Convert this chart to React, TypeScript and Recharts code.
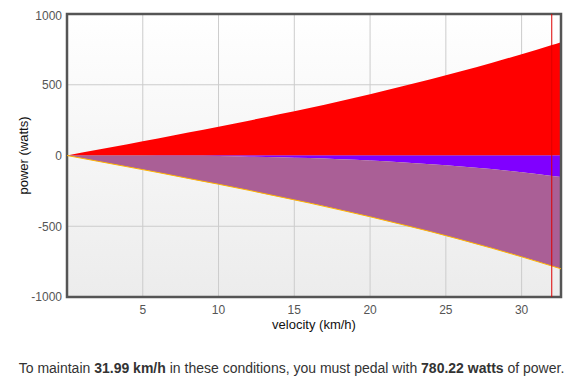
import React from "react";
import {
  AreaChart,
  Area,
  Line,
  XAxis,
  YAxis,
  CartesianGrid,
  ReferenceLine,
  ReferenceArea,
  Label,
} from "recharts";

// velocity (km/h) and power components (watts)
const velocity = [0, 2, 4, 6, 8, 10, 12, 14, 16, 18, 20, 22, 24, 26, 28, 30, 32, 32.6];
const totalPower = [0, 40, 80, 120, 162, 203, 246, 291, 336, 384, 433, 485, 538, 595, 654, 716, 781, 801];
const aeroPower = [0, 0, 0, 1, 2, 4, 8, 12, 18, 26, 35, 47, 61, 77, 96, 119, 144, 152];

const xTicks = [5, 10, 15, 20, 25, 30];
const yTicks = [-1000, -500, 0, 500, 1000];
const targetSpeed = 31.99;
const targetPower = 780.22;

const data = velocity.map((v, i) => ({
  v,
  total: totalPower[i],
  aero: aeroPower[i],
  neg: -totalPower[i],
}));

const FONT = "Arial, 'Liberation Sans', sans-serif";

export default function App() {
  return (
    <div style={{ width: 565, fontFamily: FONT }}>
      <AreaChart
        width={557}
        height={330}
        data={data}
        margin={{ top: 6, right: 4, bottom: 11, left: 14 }}
      >
        <defs>
          <linearGradient id="plotBg" x1="0" y1="0" x2="0" y2="1">
            <stop offset="0%" stopColor="#ffffff" />
            <stop offset="100%" stopColor="#ececec" />
          </linearGradient>
        </defs>
        <CartesianGrid fill="url(#plotBg)" stroke="#cccccc" strokeWidth={1} />
        <XAxis
          dataKey="v"
          type="number"
          domain={[0, 32.6]}
          ticks={xTicks}
          allowDataOverflow
          axisLine={false}
          tickLine={false}
          tickSize={0}
          tickMargin={8}
          height={30}
          tick={{ fontSize: 12, fill: "#555", fontFamily: FONT }}
        >
          <Label
            value="velocity (km/h)"
            position="insideBottom"
            offset={-2}
            style={{ fontSize: 13, fill: "#111", fontFamily: FONT }}
          />
        </XAxis>
        <YAxis
          type="number"
          domain={[-1000, 1000]}
          ticks={yTicks}
          allowDataOverflow
          axisLine={false}
          tickLine={false}
          tickSize={0}
          tickMargin={5}
          width={45}
          tick={{ fontSize: 12, fill: "#555", fontFamily: FONT }}
        >
          <Label
            value="power (watts)"
            angle={-90}
            position="insideLeft"
            offset={1}
            style={{ fontSize: 13, fill: "#111", textAnchor: "middle", fontFamily: FONT }}
          />
        </YAxis>
        <Area
          type="monotone"
          dataKey={(d: { total: number }) => [0, d.total]}
          stroke="none"
          fill="#ff0000"
          fillOpacity={1}
          isAnimationActive={false}
        />
        <Area
          type="monotone"
          dataKey={(d: { aero: number }) => [0, -d.aero]}
          stroke="none"
          fill="#8000ff"
          fillOpacity={1}
          isAnimationActive={false}
        />
        <Area
          type="monotone"
          dataKey={(d: { aero: number; total: number }) => [-d.aero, -d.total]}
          stroke="none"
          fill="#aa5f96"
          fillOpacity={1}
          isAnimationActive={false}
        />
        <Line
          type="monotone"
          dataKey="neg"
          stroke="#ffb400"
          strokeWidth={1}
          dot={false}
          isAnimationActive={false}
        />
        <ReferenceLine x={targetSpeed} stroke="#dd0000" strokeWidth={1} />
        <ReferenceArea
          x1={0}
          x2={32.6}
          y1={-1000}
          y2={1000}
          fill="none"
          stroke="#555555"
          strokeWidth={2.5}
          ifOverflow="visible"
        />
      </AreaChart>
      <div
        style={{
          marginTop: 22,
          paddingLeft: 2,
          textAlign: "center",
          fontSize: 14,
          color: "#333",
        }}
      >
        To maintain <b>{targetSpeed} km/h</b> in these conditions, you must pedal with{" "}
        <b>{targetPower} watts</b> of power.
      </div>
    </div>
  );
}
